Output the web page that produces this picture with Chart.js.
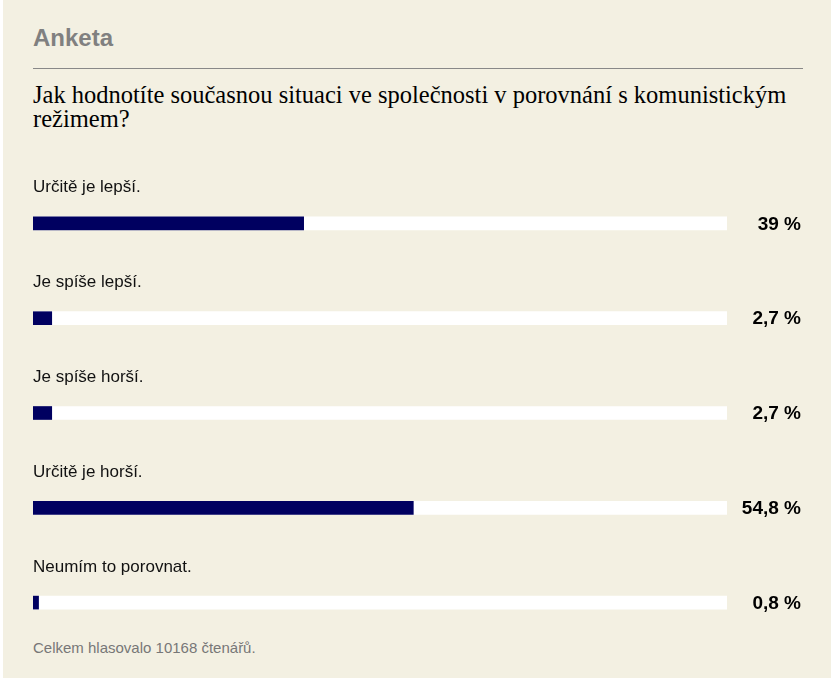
<!DOCTYPE html>
<html lang="cs">
<head>
<meta charset="utf-8">
<script src="https://cdn.jsdelivr.net/npm/chart.js@4"></script>
<style>
  html, body { margin: 0; padding: 0; background: #fff; }
  body { width: 831px; height: 691px; position: relative; overflow: hidden; }
  .panel { position: absolute; left: 3px; top: 0; width: 828px; height: 678px; background: #f3f0e2; }
  .title { position: absolute; left: 33px; top: 26px; font: bold 24px "Liberation Sans", Arial, sans-serif; line-height: 24px; color: #808080; }
  .rule { position: absolute; left: 33px; top: 68px; width: 770px; height: 1px; background: #888; }
  .question { position: absolute; left: 33px; top: 83px; font: 24.5px "Liberation Serif", Georgia, serif; line-height: 24px; color: #000; white-space: nowrap; }
  .footer { position: absolute; left: 33px; top: 640px; font: 15px "Liberation Sans", Arial, sans-serif; line-height: 16px; color: #777; }
  .chart-box { position: absolute; left: 0; top: 0; width: 831px; height: 691px; }
</style>
</head>
<body>
<div class="panel"></div>
<div class="title">Anketa</div>
<div class="rule"></div>
<div class="question">Jak hodnotíte současnou situaci ve společnosti v porovnání s komunistickým<br>režimem?</div>
<div class="footer">Celkem hlasovalo 10168 čtenářů.</div>
<div class="chart-box"><canvas id="poll"></canvas></div>

<script>
// poll answers and their share of votes (%)
const answers = ['Určitě je lepší.', 'Je spíše lepší.', 'Je spíše horší.', 'Určitě je horší.', 'Neumím to porovnat.'];
const shares = [39, 2.7, 2.7, 54.8, 0.8];
const shareLabels = ['39 %', '2,7 %', '2,7 %', '54,8 %', '0,8 %'];
const fullTrack = answers.map(() => 100);

// answer text above each bar, percentage to the right
const pollText = {
    id: 'pollText',
    afterDatasetsDraw(chart) {
        const ctx = chart.ctx;
        const y = chart.scales.y;
        ctx.save();
        answers.forEach(function(a, i) {
            const cy = y.getPixelForValue(i);
            ctx.fillStyle = '#111';
            ctx.font = '17px "Liberation Sans", Arial, sans-serif';
            ctx.textAlign = 'left';
            ctx.textBaseline = 'alphabetic';
            ctx.fillText(a, 33, cy - 31);
            ctx.fillStyle = '#000';
            ctx.font = 'bold 19px "Liberation Sans", Arial, sans-serif';
            ctx.textAlign = 'right';
            ctx.textBaseline = 'middle';
            ctx.fillText(shareLabels[i], 801, cy + 1);
        });
        ctx.restore();
    }
};

new Chart(document.getElementById('poll'), {
    type: 'bar',
    data: {
        labels: answers,
        datasets: [
            { data: shares, backgroundColor: '#000060', barThickness: 13 },
            { data: fullTrack, backgroundColor: '#ffffff', barThickness: 13 }
        ]
    },
    options: {
        indexAxis: 'y',
        responsive: true,
        maintainAspectRatio: false,
        animation: false,
        grouped: false,
        layout: { padding: { left: 33, right: 104, top: 176, bottom: 41 } },
        scales: {
            x: { display: false, min: 0, max: 100 },
            y: { display: false }
        },
        plugins: { legend: { display: false }, tooltip: { enabled: false } }
    },
    plugins: [pollText]
});
</script>
</body>
</html>
